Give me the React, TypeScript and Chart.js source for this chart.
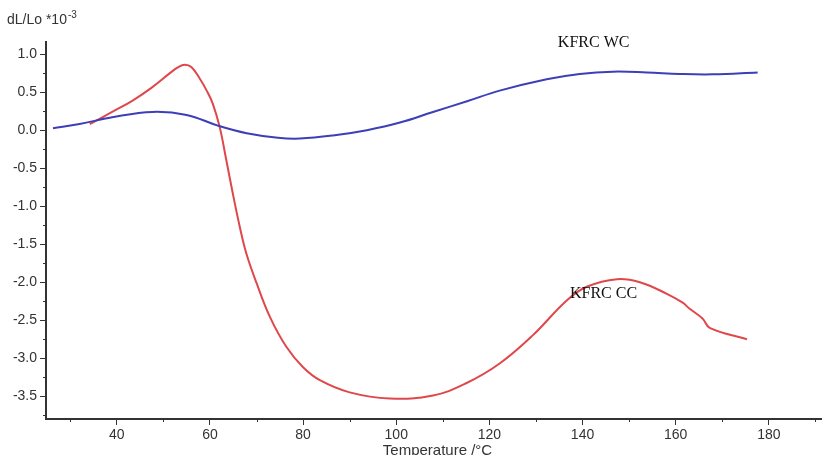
import React, { useEffect, useRef } from "react";
import { Chart, registerables } from "chart.js";

Chart.register(...registerables);

// KFRC WC (blue)
const tempWC = [26.3, 32, 39, 47.7, 55, 61.7, 67.9, 74.6, 79.3, 86.4, 93.7, 100.8, 107.9, 115.2, 122.2, 132.3, 139.4, 146.5, 153.8, 160.9, 168, 177.6];
const dlWC = [0.025, 0.08, 0.17, 0.24, 0.2, 0.06, -0.04, -0.1, -0.11, -0.07, 0.0, 0.1, 0.24, 0.38, 0.52, 0.67, 0.74, 0.77, 0.76, 0.74, 0.735, 0.76];

// KFRC CC (red)
const tempCC = [34.2, 39, 43.4, 47.5, 51.4, 53.2, 54.6, 56, 57.8, 59.3, 60.6, 62.1, 63.5, 64.9, 66.4, 67.8, 70, 72.9, 76.4, 80, 83.6, 90, 98.6, 107.9, 115, 122.2, 129.3, 136.6, 140.9, 147.4, 152.3, 158, 161.5, 163, 165.8, 167.3, 175.3];
const dlCC = [0.08, 0.24, 0.39, 0.56, 0.75, 0.83, 0.86, 0.83, 0.68, 0.52, 0.35, 0.04, -0.39, -0.83, -1.27, -1.62, -2.01, -2.46, -2.85, -3.12, -3.29, -3.45, -3.53, -3.49, -3.33, -3.07, -2.7, -2.24, -2.06, -1.96, -2.0, -2.15, -2.27, -2.35, -2.48, -2.6, -2.75];

const xTicks = [40, 60, 80, 100, 120, 140, 160, 180];
const xMinorTicks = [30, 50, 70, 90, 110, 130, 150, 170, 190];
const yTicks = [-3.5, -3.0, -2.5, -2.0, -1.5, -1.0, -0.5, 0.0, 0.5, 1.0];
const yMinorTicks = [-3.75, -3.25, -2.75, -2.25, -1.75, -1.25, -0.75, -0.25, 0.25, 0.75];

const labels = [
  { text: "KFRC WC", x: 134.7, y: 1.095 },
  { text: "KFRC CC", x: 137.3, y: -2.21 },
];

const X_MIN = 24.8;
const X_MAX = 191.2;
const Y_MIN = -3.8;
const Y_MAX = 1.16;

const AXIS_COLOR = "#333333";
const FONT = "'Liberation Sans', Arial, sans-serif";

const extrasPlugin = {
  id: "extras",
  afterDraw(chart: any) {
    const ctx = chart.ctx;
    const xs = chart.scales.x;
    const ys = chart.scales.y;
    const area = chart.chartArea;
    ctx.save();
    // minor ticks
    ctx.strokeStyle = AXIS_COLOR;
    ctx.lineWidth = 1;
    ctx.beginPath();
    yMinorTicks.forEach((v) => {
      const py = Math.round(ys.getPixelForValue(v)) + 0.5;
      ctx.moveTo(area.left - 3, py);
      ctx.lineTo(area.left, py);
    });
    xMinorTicks.forEach((v) => {
      const px = Math.round(xs.getPixelForValue(v)) + 0.5;
      ctx.moveTo(px, area.bottom);
      ctx.lineTo(px, area.bottom + 3);
    });
    ctx.stroke();

    // y title
    ctx.fillStyle = AXIS_COLOR;
    ctx.textBaseline = "alphabetic";
    ctx.textAlign = "left";
    ctx.font = `14px ${FONT}`;
    const main = "dL/Lo *10";
    ctx.fillText(main, 7, 24);
    const w = ctx.measureText(main).width;
    ctx.font = `10px ${FONT}`;
    ctx.fillText("-3", 7 + w + 1, 18);

    // x title
    ctx.font = `15px ${FONT}`;
    ctx.textAlign = "center";
    ctx.fillText("Temperature /\u00b0C", (area.left + area.right) / 2 + 4, 455);

    // curve labels
    ctx.fillStyle = "#111111";
    ctx.textAlign = "left";
    ctx.font = `16px 'Liberation Serif', 'Times New Roman', serif`;
    labels.forEach((l) => {
      ctx.fillText(l.text, xs.getPixelForValue(l.x), ys.getPixelForValue(l.y));
    });
    ctx.restore();
  },
};

export default function App() {
  const ref = useRef<HTMLCanvasElement | null>(null);
  useEffect(() => {
    if (!ref.current) return;
    const chart = new Chart(ref.current, {
      type: "line",
      data: {
        datasets: [
          {
            label: "KFRC WC",
            data: tempWC.map((t, i) => ({ x: t, y: dlWC[i] })),
            borderColor: "#3c3fb8",
            borderWidth: 2,
            pointRadius: 0,
            tension: 0.4,
            fill: false,
          },
          {
            label: "KFRC CC",
            data: tempCC.map((t, i) => ({ x: t, y: dlCC[i] })),
            borderColor: "#df474b",
            borderWidth: 2,
            pointRadius: 0,
            tension: 0.4,
            fill: false,
          },
        ],
      },
      options: {
        animation: false,
        responsive: false,
        layout: { padding: { top: 42, right: 5, left: 0, bottom: 0 } },
        plugins: {
          legend: { display: false },
          tooltip: { enabled: false },
        },
        scales: {
          x: {
            type: "linear",
            min: X_MIN,
            max: X_MAX,
            afterBuildTicks: (s: any) => {
              s.ticks = xTicks.map((v) => ({ value: v }));
            },
            afterFit: (s: any) => {
              s.height = 36;
            },
            grid: {
              drawOnChartArea: false,
              drawTicks: true,
              tickLength: 6,
              color: AXIS_COLOR,
              lineWidth: 1,
            },
            border: { display: true, color: AXIS_COLOR, width: 2 },
            ticks: {
              autoSkip: false,
              maxRotation: 0,
              padding: 2,
              color: AXIS_COLOR,
              font: { family: FONT, size: 14 },
              callback: (v: any) => String(v),
            },
          },
          y: {
            type: "linear",
            min: Y_MIN,
            max: Y_MAX,
            afterBuildTicks: (s: any) => {
              s.ticks = yTicks.map((v) => ({ value: v }));
            },
            afterFit: (s: any) => {
              s.width = 46;
            },
            grid: {
              drawOnChartArea: false,
              drawTicks: true,
              tickLength: 6,
              color: AXIS_COLOR,
              lineWidth: 1,
            },
            border: { display: true, color: AXIS_COLOR, width: 2 },
            ticks: {
              padding: 3,
              color: AXIS_COLOR,
              font: { family: FONT, size: 14 },
              callback: (v: any) => Number(v).toFixed(1),
            },
          },
        },
      },
      plugins: [extrasPlugin],
    } as any);
    return () => chart.destroy();
  }, []);
  return (
    <div style={{ position: "absolute", left: 0, top: 0, width: 826, height: 455, background: "#fff" }}>
      <canvas ref={ref} width={826} height={455} style={{ display: "block" }} />
    </div>
  );
}
